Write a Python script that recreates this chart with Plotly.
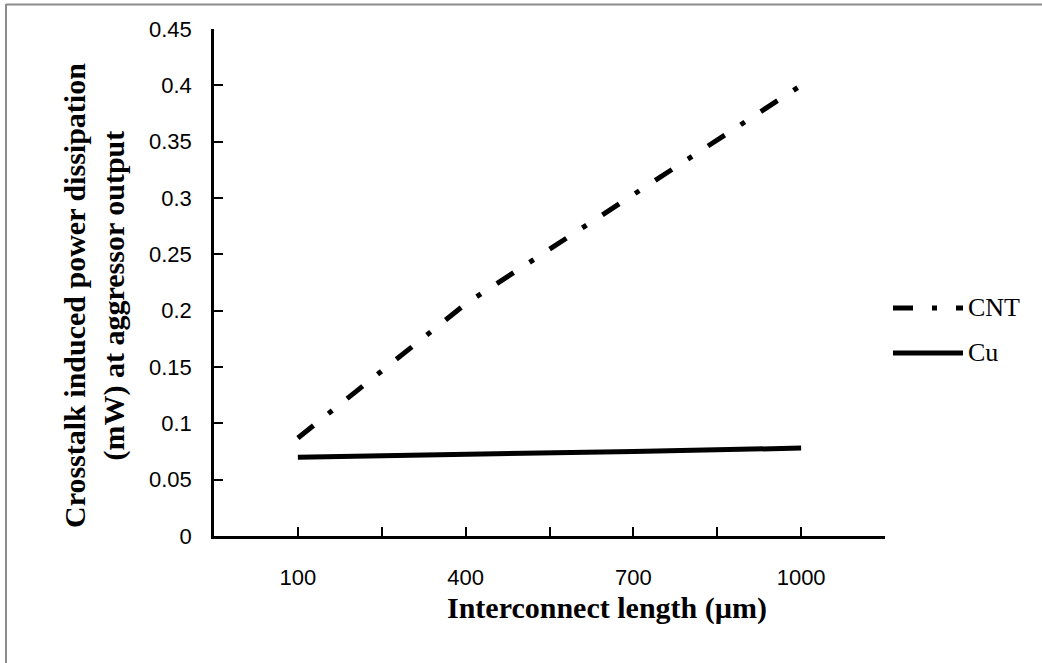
import plotly.graph_objects as go

# Data
lengths = [100, 400, 700, 1000]
cnt_power = [0.087, 0.206, 0.303, 0.400]
cu_power = [0.070, 0.072, 0.075, 0.078]

x_tickvals = [-50, 100, 250, 400, 550, 700, 850, 1000, 1150]
x_ticktext = ["", "100", "", "400", "", "700", "", "1000", ""]
y_tickvals = [0, 0.05, 0.1, 0.15, 0.2, 0.25, 0.3, 0.35, 0.4, 0.45]
y_ticktext = ["0", "0.05", "0.1", "0.15", "0.2", "0.25", "0.3", "0.35", "0.4", "0.45"]

series_names = ["CNT", "Cu"]
x_title = "Interconnect length (µm)"
y_title = "Crosstalk induced power dissipation<br>(mW) at aggressor output"

W, H = 1042, 663
L, R, T, B = 214, 157, 29, 127
pw, ph = W - L - R, H - T - B

def px(xp):
    return (xp - L) / pw

def py(yp):
    return (H - B - yp) / ph

tick_font = dict(family="Liberation Sans Narrow, Arial Narrow, Liberation Sans", size=22, color="black")
serif_bold = dict(family="Liberation Serif, Times New Roman, serif", size=30, color="black", weight="bold")
serif = dict(family="Liberation Serif, Times New Roman, serif", size=26, color="black")

CNT_DASH = "20px,19px,5px,19px"

fig = go.Figure()
fig.add_trace(go.Scatter(x=lengths, y=cnt_power, mode="lines", name=series_names[0],
                         line=dict(color="black", width=5, dash=CNT_DASH)))
fig.add_trace(go.Scatter(x=lengths, y=cu_power, mode="lines", name=series_names[1],
                         line=dict(color="black", width=5)))

fig.update_layout(
    width=W, height=H,
    margin=dict(l=L, r=R, t=T, b=B, autoexpand=False),
    paper_bgcolor="white", plot_bgcolor="white",
    showlegend=False,
    xaxis=dict(range=[-50, 1150], tickvals=x_tickvals, ticktext=x_ticktext,
               ticks="inside", ticklen=9, tickwidth=2, tickcolor="black",
               showline=True, linecolor="black", linewidth=2.5,
               showgrid=False, zeroline=False, tickfont=tick_font,
               ticklabelstandoff=20),
    yaxis=dict(range=[0, 0.45], tickvals=y_tickvals, ticktext=y_ticktext,
               ticks="inside", ticklen=9, tickwidth=2, tickcolor="black",
               showline=True, linecolor="black", linewidth=2.5,
               showgrid=False, zeroline=False, tickfont=tick_font,
               ticklabelstandoff=15),
)

# Axis titles (placed as in the reference, slightly off-centre)
fig.add_annotation(xref="paper", yref="paper", x=px(607), y=py(608), text=x_title,
                   showarrow=False, xanchor="center", yanchor="middle", font=serif_bold)
fig.add_annotation(xref="paper", yref="paper", x=px(94), y=py(296), text=y_title,
                   textangle=-90, showarrow=False, xanchor="center", yanchor="middle",
                   font=serif_bold)

# Custom legend (long line samples as in the reference)
leg_y = [308, 353]
dashes = [CNT_DASH, "solid"]
for name, yy, d in zip(series_names, leg_y, dashes):
    fig.add_shape(type="line", xref="paper", yref="paper",
                  x0=px(893), x1=px(963), y0=py(yy), y1=py(yy),
                  line=dict(color="black", width=5, dash=d))
    fig.add_annotation(xref="paper", yref="paper", x=px(966), y=py(yy),
                       text=name, showarrow=False, xanchor="left", yanchor="middle",
                       font=serif)

# Chart-area border (gray frame at left and top)
fig.add_shape(type="line", xref="paper", yref="paper", x0=px(6), x1=px(6), y0=py(4), y1=py(H),
              line=dict(color="#8c8c8c", width=2))
fig.add_shape(type="line", xref="paper", yref="paper", x0=px(6), x1=px(W), y0=py(4.5), y1=py(4.5),
              line=dict(color="#8c8c8c", width=2))

fig.write_html("out.html")
